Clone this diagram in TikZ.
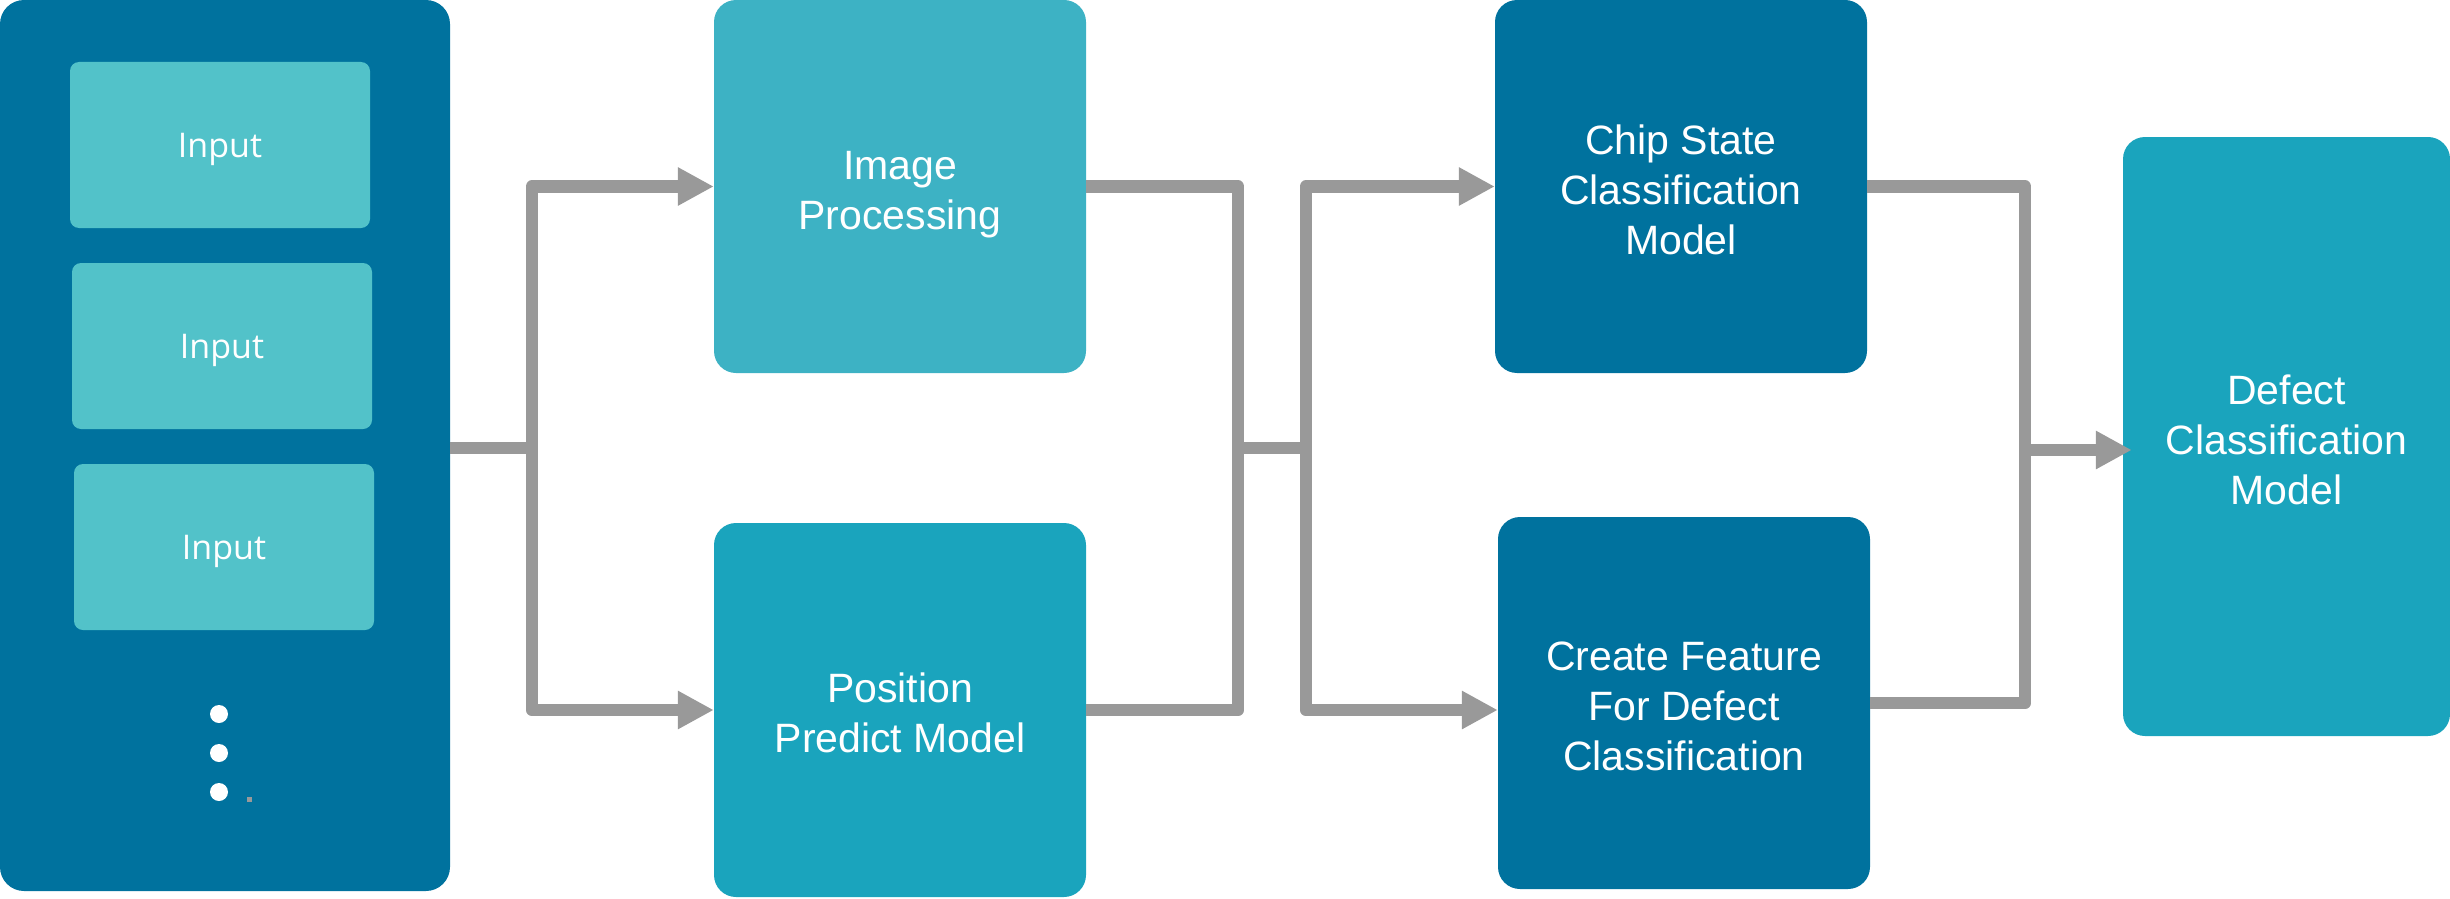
\documentclass[tikz,border=0pt]{standalone}
\usepackage{fontspec}
\setmainfont{Liberation Sans}
\newfontfamily\inputfont{Open Sans}
\usetikzlibrary{arrows.meta}
\definecolor{darkblue}{HTML}{00729E}
\definecolor{inputcol}{HTML}{52C2C9}
\definecolor{imgcol}{HTML}{3DB2C4}
\definecolor{tealcol}{HTML}{1AA4BD}
\definecolor{linecol}{HTML}{999999}
\newcommand{\boxlines}[1]{\raisebox{-14pt}[0pt][0pt]{\begin{tabular}[c]{@{}c@{}}#1\end{tabular}}}
\tikzset{
  bigbox/.style={rounded corners=22pt, inner sep=0pt, text=white,
    font=\fontsize{41}{50}\selectfont, minimum width=372pt, minimum height=373pt},
  inbox/.style={rounded corners=9pt, inner sep=0pt, fill=inputcol, text=white,
    font=\inputfont\fontsize{34}{40}\selectfont, text height=24pt, text depth=0pt,
    minimum width=300pt, minimum height=166pt},
  gline/.style={draw=linecol, line width=12.5pt, line join=round},
  garrow/.style={gline, -{Triangle[length=36pt,width=36pt]}},
  dotc/.style={circle, fill=white, inner sep=0pt, minimum size=18pt}
}
\begin{document}
\begin{tikzpicture}[x=1pt,y=-1pt]
\useasboundingbox (0,0) rectangle (2450,899);
% left panel
\node[rounded corners=24pt, fill=darkblue, minimum width=450pt, minimum height=891pt, inner sep=0pt] (panel) at (225,445.5) {};
\node[inbox] (in1) at (220,145) {Input};
\node[inbox] (in2) at (222,346) {Input};
\node[inbox] (in3) at (224,547) {Input};
\node[dotc] (d1) at (219,714) {};
\node[dotc] (d2) at (219,753) {};
\node[dotc] (d3) at (219,792) {};
\node[fill=linecol, inner sep=0pt, minimum size=5pt] (speck) at (249,799) {};
% main boxes
\node[bigbox, fill=imgcol] (img) at (900,186.5) {\boxlines{Image\\Processing}};
\node[bigbox, fill=tealcol, minimum height=374pt] (pos) at (900,710) {\boxlines{Position\\Predict Model}};
\node[bigbox, fill=darkblue] (chip) at (1681,186.5) {\boxlines{Chip State\\Classification\\Model}};
\node[bigbox, fill=darkblue, minimum height=372pt] (feat) at (1684,703) {\boxlines{Create Feature\\For Defect\\Classification}};
\node[bigbox, fill=tealcol, minimum width=327pt, minimum height=599pt] (defect) at (2286.5,436.5) {\boxlines{Defect\\Classification\\Model}};
% connectors
\coordinate (j1) at (532,448);
\coordinate (m1) at (1238,448);
\coordinate (m2) at (1306,448);
\coordinate (r1) at (2025,450);
\draw[gline] (panel.east |- j1) -- (j1);
\draw[garrow] (j1) |- (img.west);
\draw[garrow] (j1) |- (pos.west);
\draw[gline] (img.east) -| (m1) |- (pos.east);
\draw[gline] (m1) -- (m2);
\draw[garrow] (m2) |- (chip.west);
\draw[garrow] (m2) |- (feat.west |- pos.east);
\draw[gline] (chip.east) -| (r1) |- (feat.east);
\draw[garrow] (r1) -- ([xshift=9pt]defect.west |- r1);
\end{tikzpicture}
\end{document}
